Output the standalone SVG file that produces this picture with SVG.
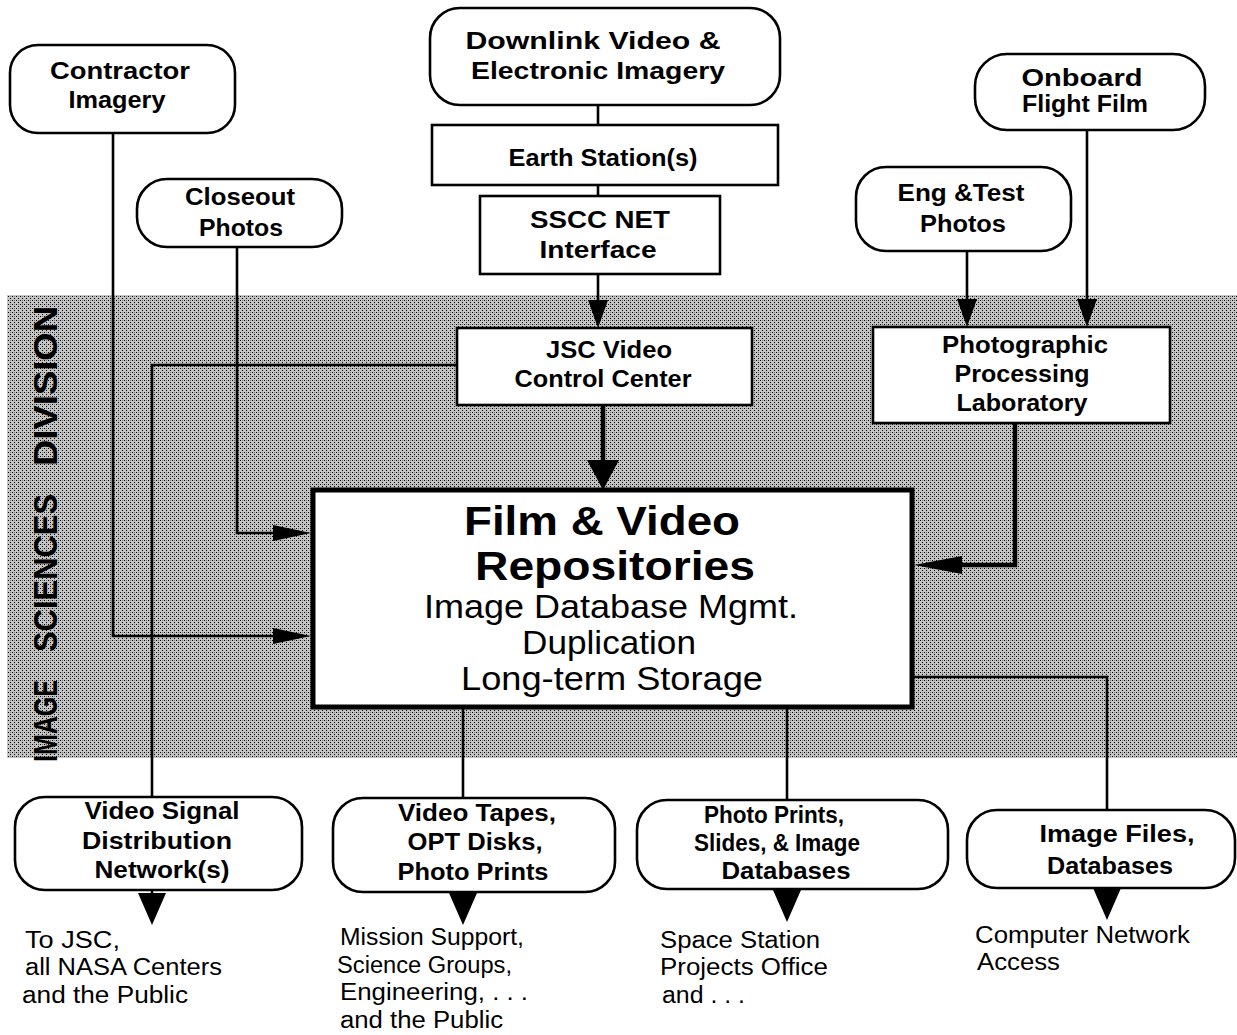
<svg xmlns="http://www.w3.org/2000/svg" width="1237" height="1035" viewBox="0 0 1237 1035">
<defs>
<style>
.box{fill:#fff;stroke:#000;stroke-width:2.6}
.big{fill:#fff;stroke:#000;stroke-width:5}
.lbl{font-family:"Liberation Sans",Arial,sans-serif;font-weight:bold;font-size:23px;text-anchor:middle;fill:#000}
.note{font-family:"Liberation Sans",Arial,sans-serif;font-size:23px;fill:#000}
.ttl{font-family:"Liberation Sans",Arial,sans-serif;font-weight:bold;font-size:41px;text-anchor:middle}
.sub{font-family:"Liberation Sans",Arial,sans-serif;font-size:33px;text-anchor:middle}
.vert{font-family:"Liberation Sans",Arial,sans-serif;font-weight:bold;font-size:26px}
.ln{fill:none;stroke:#000;stroke-width:2.6}
.thick{stroke-width:4.5}
</style>
<pattern id="dots" width="4" height="4" patternUnits="userSpaceOnUse">
<rect width="4" height="4" fill="#c4c4c4"/>
<rect x="0" y="0" width="1" height="1" fill="#000"/>
<rect x="2" y="2" width="1" height="1" fill="#000"/>
<rect x="2" y="0" width="1" height="1" fill="#777"/>
</pattern>
<marker id="arrS" markerUnits="userSpaceOnUse" markerWidth="28" markerHeight="20" viewBox="0 0 28 20" refX="14" refY="10" orient="auto"><path d="M0,0 L28,10 L0,20 z" fill="#000"/></marker>
<marker id="arrJ" markerUnits="userSpaceOnUse" markerWidth="30" markerHeight="32" viewBox="0 0 30 32" refX="15" refY="16" orient="auto"><path d="M0,0 L30,16 L0,32 z" fill="#000"/></marker>
<marker id="arrH" markerUnits="userSpaceOnUse" markerWidth="38" markerHeight="16" viewBox="0 0 38 16" refX="19" refY="8" orient="auto"><path d="M0,0 L38,8 L0,16 z" fill="#000"/></marker>
<marker id="arrL" markerUnits="userSpaceOnUse" markerWidth="48" markerHeight="18" viewBox="0 0 48 18" refX="24" refY="9" orient="auto"><path d="M0,0 L48,9 L0,18 z" fill="#000"/></marker>
<marker id="arrB" markerUnits="userSpaceOnUse" markerWidth="32" markerHeight="28" viewBox="0 0 32 28" refX="16" refY="14" orient="auto"><path d="M0,0 L32,14 L0,28 z" fill="#000"/></marker>
</defs>
<rect width="1237" height="1035" fill="#fff"/>
<g id="division">
<rect x="7" y="295" width="1230" height="463" fill="url(#dots)"/>
<text class="vert" transform="translate(57,762) rotate(-90) scale(1,1.25)" textLength="82" lengthAdjust="spacingAndGlyphs">IMAGE</text>
<text class="vert" transform="translate(57,652) rotate(-90) scale(1,1.25)" textLength="158" lengthAdjust="spacingAndGlyphs">SCIENCES</text>
<text class="vert" transform="translate(57,466) rotate(-90) scale(1,1.25)" textLength="160" lengthAdjust="spacingAndGlyphs">DIVISION</text>
</g>
<g id="connectors">
<path class="ln" d="M113,133 V636 H292" marker-end="url(#arrH)"/>
<path class="ln" d="M237,246 V533 H292" marker-end="url(#arrH)"/>
<path class="ln" d="M598,105 V125"/>
<path class="ln" d="M598,185 V196"/>
<path class="ln" d="M598,274 V314" marker-end="url(#arrS)"/>
<path class="ln thick" d="M603,405 V475" marker-end="url(#arrJ)"/>
<path class="ln" d="M457,365 H152 V797"/>
<path class="ln" d="M967,251 V313" marker-end="url(#arrS)"/>
<path class="ln" d="M1087,130 V313" marker-end="url(#arrS)"/>
<path class="ln thick" d="M1015,423 V565 H938" marker-end="url(#arrL)"/>
<path class="ln" d="M463,707 V798"/>
<path class="ln" d="M787,707 V800"/>
<path class="ln" d="M912,677 H1107 V810"/>
<path class="ln" d="M152,890 V909" marker-end="url(#arrB)"/>
<path class="ln" d="M463,892 V909" marker-end="url(#arrB)"/>
<path class="ln" d="M787,889 V906" marker-end="url(#arrB)"/>
<path class="ln" d="M1107,888 V904" marker-end="url(#arrB)"/>
</g>
<g id="n_contractor">
<rect class="box" x="10" y="45" width="225" height="88" rx="28"/>
<text class="lbl" x="120" y="79" textLength="140" lengthAdjust="spacingAndGlyphs">Contractor</text>
<text class="lbl" x="117" y="108" textLength="97" lengthAdjust="spacingAndGlyphs">Imagery</text>
</g>
<g id="n_downlink">
<rect class="box" x="430" y="8" width="350" height="97" rx="30"/>
<text class="lbl" x="593" y="49" textLength="255" lengthAdjust="spacingAndGlyphs">Downlink Video &amp;</text>
<text class="lbl" x="598" y="79" textLength="254" lengthAdjust="spacingAndGlyphs">Electronic Imagery</text>
</g>
<g id="n_earth">
<rect class="box" x="432" y="125" width="346" height="60"/>
<text class="lbl" x="603" y="166" textLength="189" lengthAdjust="spacingAndGlyphs">Earth Station(s)</text>
</g>
<g id="n_sscc">
<rect class="box" x="480" y="196" width="240" height="78"/>
<text class="lbl" x="600" y="228" textLength="140" lengthAdjust="spacingAndGlyphs">SSCC NET</text>
<text class="lbl" x="598" y="258" textLength="117" lengthAdjust="spacingAndGlyphs">Interface</text>
</g>
<g id="n_onboard">
<rect class="box" x="975" y="54" width="230" height="76" rx="32"/>
<text class="lbl" x="1082" y="86" textLength="121" lengthAdjust="spacingAndGlyphs">Onboard</text>
<text class="lbl" x="1085" y="112" textLength="126" lengthAdjust="spacingAndGlyphs">Flight Film</text>
</g>
<g id="n_closeout">
<rect class="box" x="137" y="179" width="205" height="68" rx="30"/>
<text class="lbl" x="240" y="205" textLength="110" lengthAdjust="spacingAndGlyphs">Closeout</text>
<text class="lbl" x="241" y="236" textLength="84" lengthAdjust="spacingAndGlyphs">Photos</text>
</g>
<g id="n_engtest">
<rect class="box" x="856" y="167" width="215" height="84" rx="30"/>
<text class="lbl" x="961" y="201" textLength="127" lengthAdjust="spacingAndGlyphs">Eng &amp;Test</text>
<text class="lbl" x="963" y="232" textLength="86" lengthAdjust="spacingAndGlyphs">Photos</text>
</g>
<g id="n_jsc">
<rect class="box" x="457" y="328" width="295" height="77"/>
<text class="lbl" x="609" y="358" textLength="126" lengthAdjust="spacingAndGlyphs">JSC Video</text>
<text class="lbl" x="603" y="387" textLength="177" lengthAdjust="spacingAndGlyphs">Control Center</text>
</g>
<g id="n_lab">
<rect class="box" x="873" y="327" width="297" height="96"/>
<text class="lbl" x="1025" y="353" textLength="166" lengthAdjust="spacingAndGlyphs">Photographic</text>
<text class="lbl" x="1022" y="382" textLength="135" lengthAdjust="spacingAndGlyphs">Processing</text>
<text class="lbl" x="1022" y="411" textLength="131" lengthAdjust="spacingAndGlyphs">Laboratory</text>
</g>
<g id="n_film">
<rect class="big" x="313" y="490" width="599" height="217"/>
<text class="ttl" x="602" y="535" textLength="276" lengthAdjust="spacingAndGlyphs">Film &amp; Video</text>
<text class="ttl" x="615" y="580" textLength="280" lengthAdjust="spacingAndGlyphs">Repositories</text>
<text class="sub" x="611" y="618" textLength="374" lengthAdjust="spacingAndGlyphs">Image Database Mgmt.</text>
<text class="sub" x="609" y="654" textLength="174" lengthAdjust="spacingAndGlyphs">Duplication</text>
<text class="sub" x="612" y="690" textLength="302" lengthAdjust="spacingAndGlyphs">Long-term Storage</text>
</g>
<g id="n_vsig">
<rect class="box" x="15" y="797" width="287" height="93" rx="30"/>
<text class="lbl" x="162" y="819" textLength="155" lengthAdjust="spacingAndGlyphs">Video Signal</text>
<text class="lbl" x="157" y="849" textLength="150" lengthAdjust="spacingAndGlyphs">Distribution</text>
<text class="lbl" x="162" y="878" textLength="135" lengthAdjust="spacingAndGlyphs">Network(s)</text>
</g>
<g id="n_tapes">
<rect class="box" x="333" y="798" width="282" height="94" rx="30"/>
<text class="lbl" x="477" y="821" textLength="158" lengthAdjust="spacingAndGlyphs">Video Tapes,</text>
<text class="lbl" x="475" y="850" textLength="135" lengthAdjust="spacingAndGlyphs">OPT Disks,</text>
<text class="lbl" x="473" y="880" textLength="151" lengthAdjust="spacingAndGlyphs">Photo Prints</text>
</g>
<g id="n_prints">
<rect class="box" x="637" y="800" width="311" height="89" rx="30"/>
<text class="lbl" x="774" y="823" textLength="140" lengthAdjust="spacingAndGlyphs">Photo Prints,</text>
<text class="lbl" x="777" y="851" textLength="166" lengthAdjust="spacingAndGlyphs">Slides, &amp; Image</text>
<text class="lbl" x="786" y="879" textLength="129" lengthAdjust="spacingAndGlyphs">Databases</text>
</g>
<g id="n_files">
<rect class="box" x="967" y="810" width="268" height="78" rx="30"/>
<text class="lbl" x="1117" y="842" textLength="155" lengthAdjust="spacingAndGlyphs">Image Files,</text>
<text class="lbl" x="1110" y="874" textLength="126" lengthAdjust="spacingAndGlyphs">Databases</text>
</g>
<g id="destinations">
<text class="note" x="25" y="948" textLength="95" lengthAdjust="spacingAndGlyphs">To JSC,</text>
<text class="note" x="25" y="975" textLength="197" lengthAdjust="spacingAndGlyphs">all NASA Centers</text>
<text class="note" x="22" y="1003" textLength="166" lengthAdjust="spacingAndGlyphs">and the Public</text>
<text class="note" x="340" y="945" textLength="184" lengthAdjust="spacingAndGlyphs">Mission Support,</text>
<text class="note" x="337" y="973" textLength="175" lengthAdjust="spacingAndGlyphs">Science Groups,</text>
<text class="note" x="340" y="1000" textLength="188" lengthAdjust="spacingAndGlyphs">Engineering, . . .</text>
<text class="note" x="340" y="1028" textLength="163" lengthAdjust="spacingAndGlyphs">and the Public</text>
<text class="note" x="660" y="948" textLength="160" lengthAdjust="spacingAndGlyphs">Space Station</text>
<text class="note" x="660" y="975" textLength="168" lengthAdjust="spacingAndGlyphs">Projects Office</text>
<text class="note" x="662" y="1003" textLength="83" lengthAdjust="spacingAndGlyphs">and . . .</text>
<text class="note" x="975" y="943" textLength="215" lengthAdjust="spacingAndGlyphs">Computer Network</text>
<text class="note" x="977" y="970" textLength="83" lengthAdjust="spacingAndGlyphs">Access</text>
</g>
</svg>
